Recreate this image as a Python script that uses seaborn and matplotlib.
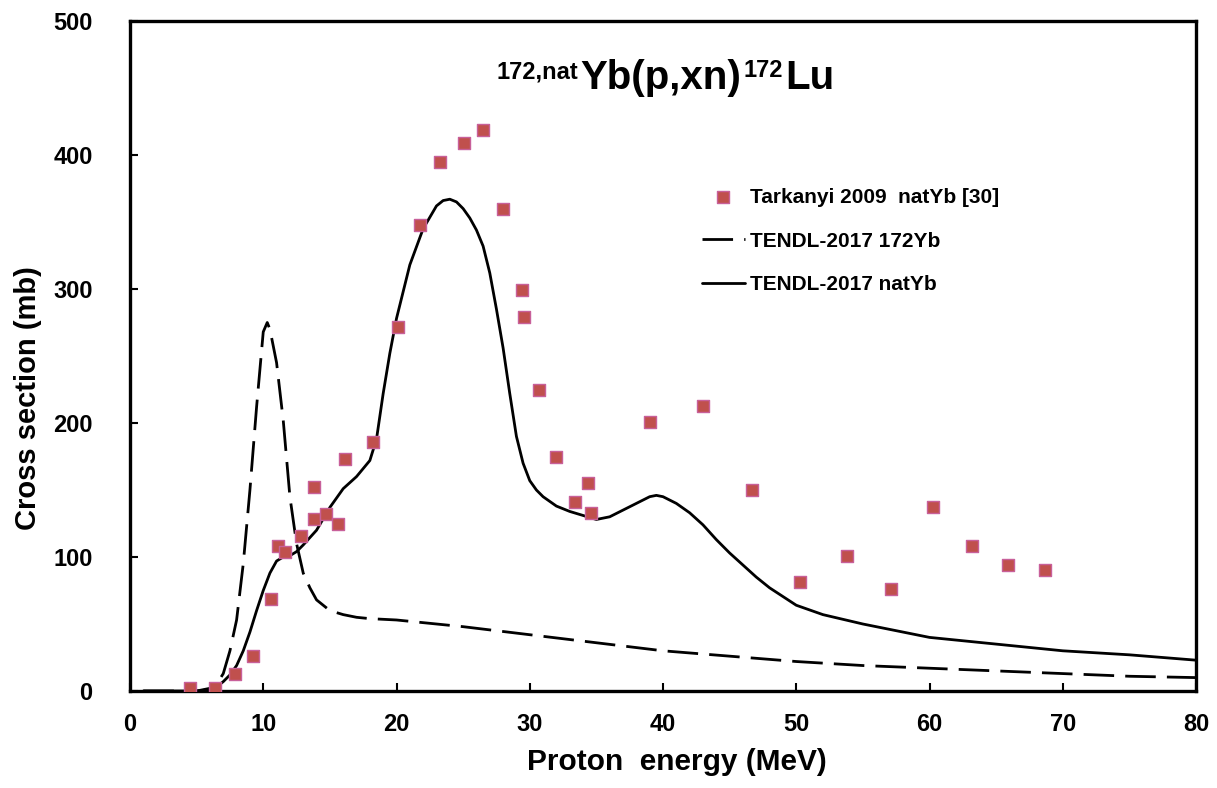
import matplotlib
matplotlib.use("Agg")
import matplotlib.pyplot as plt
import seaborn as sns
import pandas as pd

# ---- data ----
exp_x = [4.5, 6.4, 7.9, 9.2, 10.6, 11.1, 11.6, 12.8, 13.8, 13.8, 14.7, 15.6, 16.1, 18.2,
         20.1, 21.8, 23.3, 25.1, 26.5, 28.0, 29.4, 29.6, 30.7, 32.0, 33.4, 34.4, 34.6,
         39.0, 43.0, 46.7, 50.3, 53.8, 57.1, 60.3, 63.2, 65.9, 68.7]
exp_y = [2, 2, 13, 26, 69, 108, 104, 116, 152, 128, 132, 125, 173, 186,
         272, 348, 395, 409, 419, 360, 299, 279, 225, 175, 141, 155, 133,
         201, 213, 150, 81, 101, 76, 137, 108, 94, 90]

nat_x = [1, 2, 3, 4, 5, 5.5, 6, 6.5, 7, 7.5, 8, 8.5, 9, 9.5, 10, 10.5, 11, 11.5, 12, 12.5,
         13, 14, 15, 16, 17, 18, 18.5, 19, 19.5, 20, 21, 22, 23, 23.5, 24, 24.5, 25, 25.5,
         26, 26.5, 27, 27.5, 28, 28.5, 29, 29.5, 30, 30.5, 31, 32, 33, 34, 35, 36, 37, 38,
         39, 39.5, 40, 41, 42, 43, 44, 45, 46, 47, 48, 50, 52, 55, 60, 65, 70, 75, 80]
nat_y = [0, 0, 0, 0, 0, 0.5, 1, 3, 7, 12, 19, 30, 44, 60, 75, 88, 97, 100, 101, 104,
         109, 120, 137, 151, 160, 172, 188, 222, 252, 278, 318, 345, 362, 366, 367, 365, 360, 353,
         344, 332, 312, 285, 256, 222, 190, 170, 157, 150, 145, 138, 134, 131, 128, 130, 135, 140,
         145, 146, 145, 140, 133, 124, 113, 103, 94, 85, 77, 64, 57, 50, 40, 35, 30, 27, 23]

yb172_x = [1, 2, 3, 4, 5, 5.5, 6, 6.5, 7, 7.5, 8, 8.5, 9, 9.5, 10, 10.3, 10.5, 11, 11.5,
           12, 12.5, 13, 13.5, 14, 15, 16, 17, 18, 20, 25, 30, 35, 40, 45, 50, 55, 60,
           65, 70, 75, 80]
yb172_y = [0, 0, 0, 0, 0, 1, 2, 5, 13, 30, 53, 95, 150, 212, 268, 275, 270, 245, 202,
           145, 110, 88, 77, 68, 60, 57, 55, 54, 53, 48, 42, 36, 30, 26, 22, 19, 17,
           15, 13, 11, 10]

x_ticks = [0, 10, 20, 30, 40, 50, 60, 70, 80]
y_ticks = [0, 100, 200, 300, 400, 500]

label_exp = "Tarkanyi 2009  natYb [30]"
label_172 = "TENDL-2017 172Yb"
label_nat = "TENDL-2017 natYb"

# ---- style ----
sns.set_theme(style="white")
plt.rcParams["font.family"] = ["Liberation Sans", "DejaVu Sans"]
plt.rcParams["font.weight"] = "bold"
for k in ["text.color", "axes.labelcolor", "xtick.color", "ytick.color"]:
    plt.rcParams[k] = "black"

fig = plt.figure(figsize=(12.17, 7.88), dpi=100)
ax = fig.add_axes([130 / 1217, 1 - 691 / 788, (1196 - 130) / 1217, (691 - 21) / 788])

df_exp = pd.DataFrame({"x": exp_x, "y": exp_y})
df_172 = pd.DataFrame({"x": yb172_x, "y": yb172_y})
df_nat = pd.DataFrame({"x": nat_x, "y": nat_y})

sns.lineplot(data=df_172, x="x", y="y", ax=ax, color="black", lw=2.0,
             linestyle=(0, (11, 4)), label=label_172, sort=False)
sns.lineplot(data=df_nat, x="x", y="y", ax=ax, color="black", lw=2.0,
             label=label_nat, sort=False)
sns.scatterplot(data=df_exp, x="x", y="y", ax=ax, marker="s", s=75,
                color="#C0504D", edgecolor="#C8609A", linewidth=1.0,
                label=label_exp, zorder=5)

ax.set_xlim(0, 80)
ax.set_ylim(0, 500)
ax.set_xticks(x_ticks)
ax.set_yticks(y_ticks)
ax.set_xticklabels([str(v) for v in x_ticks])
ax.set_yticklabels([str(v) for v in y_ticks])
ax.tick_params(axis="both", direction="in", labelsize=17, width=1.5,
               color="black", labelcolor="black",
               bottom=True, left=True, top=False, right=False)
ax.tick_params(axis="y", length=6, pad=27)
ax.tick_params(axis="x", length=6, pad=16)
for lbl in ax.get_xticklabels() + ax.get_yticklabels():
    lbl.set_fontweight("bold")

for sp in ax.spines.values():
    sp.set_visible(True)
    sp.set_color("black")
    sp.set_linewidth(2.4)

ax.set_xlabel("Proton  energy (MeV)", fontsize=21.5, fontweight="bold", labelpad=12)
ax.set_ylabel("Cross section (mb)", fontsize=21, fontweight="bold", labelpad=8)
ax.xaxis.set_label_coords(0.513, -0.085)
ax.yaxis.label.set_y(0.437)

# ---- title built from pieces (superscripts) ----
fig.canvas.draw()
renderer = fig.canvas.get_renderer()
pieces = [("172,nat", 17, 11), ("Yb(p,xn)", 29, 0), ("172", 17, 12), ("Lu", 29, 0)]
x0_px, base_px = 497, 788 - 89   # left edge and baseline in display pixels (from bottom)
cur = x0_px
for txt, size, rise in pieces:
    t = fig.text(cur / 1217, (base_px + rise) / 788, txt, fontsize=size,
                 fontweight="bold", ha="left", va="baseline", color="black")
    bb = t.get_window_extent(renderer)
    cur = bb.x1 + 2

handles, labels = ax.get_legend_handles_labels()
order = [labels.index(label_exp), labels.index(label_172), labels.index(label_nat)]
leg = ax.legend([handles[i] for i in order], [labels[i] for i in order],
                loc="upper left", bbox_to_anchor=(0.5366, 0.751), frameon=False,
                prop={"size": 15, "weight": "bold"}, handlelength=2.05,
                handletextpad=0.25, labelspacing=1.19, borderpad=0, borderaxespad=0)

fig.savefig("out.png", dpi=100, facecolor="white")
